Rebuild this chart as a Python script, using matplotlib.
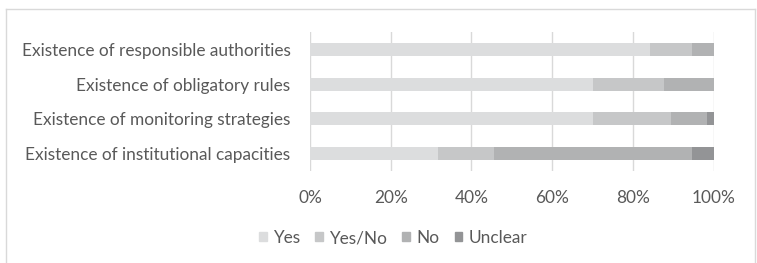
import matplotlib
matplotlib.use("Agg")
import matplotlib.pyplot as plt
from matplotlib.lines import Line2D
import numpy as np

categories = ["Existence of responsible authorities",
              "Existence of obligatory rules",
              "Existence of monitoring strategies",
              "Existence of institutional capacities"]
series_names = ["Yes", "Yes/No", "No", "Unclear"]
yes = [84.2, 70.2, 70.2, 31.6]
yes_no = [10.5, 17.5, 19.3, 14.0]
no = [5.3, 12.3, 8.8, 49.1]
unclear = [0.0, 0.0, 1.7, 5.3]
tick_labels = ["0%", "20%", "40%", "60%", "80%", "100%"]
colors = ["#DCDDDE", "#C6C7C8", "#B1B2B3", "#939496"]

plt.rcParams['font.family'] = ['Lato', 'DejaVu Sans']
text_color = "#595959"
fs = 12.4

W, H = 757, 263
fig = plt.figure(figsize=(W/100, H/100), dpi=100)
ax = fig.add_axes([310/W, 1-171/H, (713.5-310)/W, (171-32)/H])

data = [yes, yes_no, no, unclear]
y = np.arange(len(categories))
left = np.zeros(len(categories))
for vals, c, name in zip(data, colors, series_names):
    ax.barh(y, vals, left=left, color=c, height=0.38, label=name, zorder=3)
    left += np.array(vals)

ax.set_ylim(len(categories)-0.5, -0.5)
ax.set_xlim(0, 100)
ax.set_xticks(np.linspace(0, 100, 6))
ax.set_xticklabels(tick_labels)
ax.set_yticks(y)
ax.set_yticklabels(categories)
ax.tick_params(axis='both', length=0, labelsize=fs, colors=text_color)
ax.tick_params(axis='y', pad=14)
ax.tick_params(axis='x', pad=14)
ax.grid(axis='x', color="#D9D9D9", linewidth=1, zorder=0)
for s in ax.spines.values():
    s.set_visible(False)

handles = [plt.Rectangle((0, 0), 1, 1, color=c) for c in colors]
fig.legend(handles, series_names, loc='center', bbox_to_anchor=(393/W, 1-238/H),
           ncol=4, frameon=False, fontsize=fs, labelcolor=text_color,
           handlelength=0.45, handleheight=0.45, handletextpad=0.35, columnspacing=0.9)

# outer frame
fc = "#D9D9D9"
fig.add_artist(Line2D([6/W, 755/W], [1-9/H, 1-9/H], color=fc, lw=1, transform=fig.transFigure))
fig.add_artist(Line2D([6/W, 6/W], [1-9/H, 0], color=fc, lw=1, transform=fig.transFigure))
fig.add_artist(Line2D([755/W, 755/W], [1-9/H, 0], color=fc, lw=1, transform=fig.transFigure))

fig.savefig("out.png", dpi=100)
